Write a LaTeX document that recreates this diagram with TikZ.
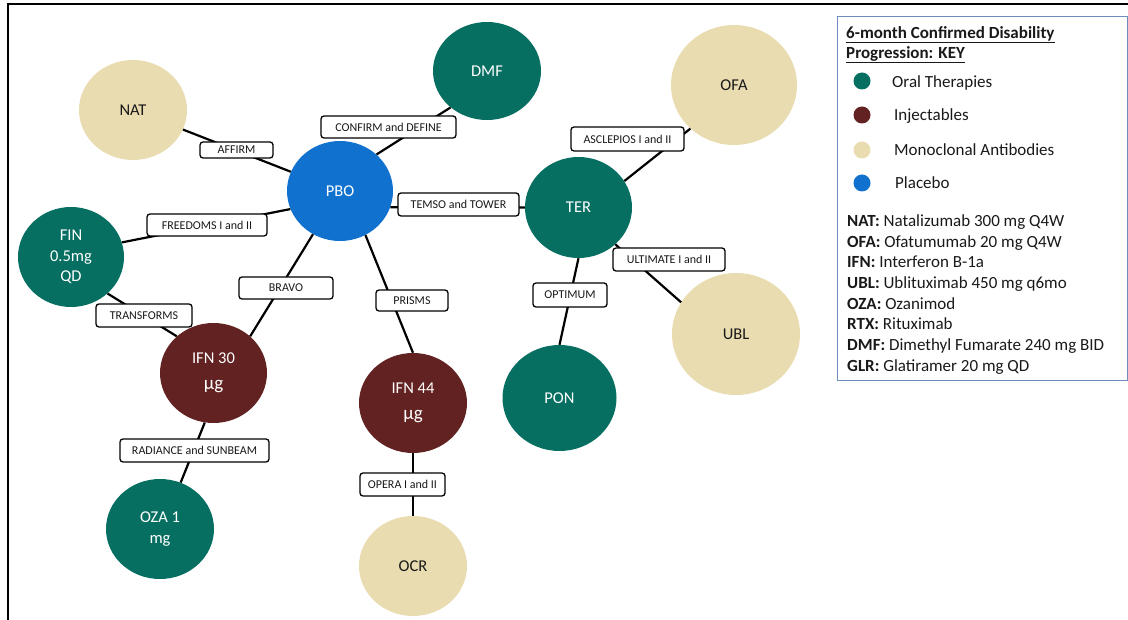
\documentclass[tikz,border=0pt]{standalone}
\usepackage{fontspec}
\setmainfont{Carlito}
\usetikzlibrary{shapes.geometric}
\definecolor{tealc}{RGB}{7,111,98}
\definecolor{maroonc}{RGB}{99,34,34}
\definecolor{beigec}{RGB}{234,220,177}
\definecolor{bluec}{RGB}{16,113,206}
\definecolor{keyb}{RGB}{110,140,190}
\definecolor{ink}{RGB}{25,25,25}
\newcommand{\mug}{{\fontsize{19}{20.5}\selectfont μg}}
\begin{document}
\begin{tikzpicture}[x=1pt,y=-1pt,
  bub/.style={ellipse, inner sep=0pt, align=center, font=\fontsize{16.5}{20.5}\selectfont},
  oral/.style={bub, fill=tealc, text=white},
  inj/.style={bub, fill=maroonc, text=white},
  mab/.style={bub, fill=beigec, text=ink},
  plac/.style={bub, fill=bluec, text=white},
  lab/.style={draw=black, line width=1.3pt, rounded corners=3pt, fill=white, inner sep=0pt,
    font=\fontsize{12}{14}\selectfont, text=ink},
  link/.style={line width=2.2pt, black},
  keytxt/.style={inner sep=0pt, font=\fontsize{17}{20.7}\selectfont, text=ink},
  dot/.style={circle, inner sep=0pt, minimum size=17pt}]
\useasboundingbox (0,0) rectangle (1128,620);
% frame
\draw[line width=2pt] (8,622) -- (8,4) -- (1130,4);

% bubbles
\node[mab,  minimum width=108pt, minimum height=100pt] (NAT)   at (133,110) {NAT};
\node[oral, minimum width=108pt, minimum height=98pt]  (DMF)   at (487,71)  {DMF};
\node[plac, minimum width=106pt, minimum height=100pt] (PBO)   at (340,191) {PBO};
\node[mab,  minimum width=126pt, minimum height=120pt] (OFA)   at (734,85)  {OFA};
\node[oral, minimum width=107pt, minimum height=101pt] (TER)   at (578.5,207.5) {TER};
\node[oral, minimum width=106pt, minimum height=100pt] (FIN)   at (71,257)  {FIN\\0.5mg\\QD};
\node[inj,  minimum width=107pt, minimum height=100pt] (IFN30) at (213.5,373) {IFN 30\\[6pt]\mug};
\node[inj,  minimum width=108pt, minimum height=100pt] (IFN44) at (413,403) {IFN 44\\[6pt]\mug};
\node[oral, minimum width=114pt, minimum height=106pt] (PON)   at (559.5,398) {PON};
\node[mab,  minimum width=128pt, minimum height=122pt] (UBL)   at (736,334) {UBL};
\node[oral, minimum width=108pt, minimum height=100pt] (OZA)   at (160,529) {OZA 1\\mg};
\node[mab,  minimum width=108pt, minimum height=100pt] (OCR)   at (413,566) {OCR};

% connectors
\draw[link] (NAT) -- (PBO);
\draw[link] (PBO.45) -- (DMF.-135);
\draw[link] (FIN.16) -- (PBO.200);
\draw[link] (PBO.-18) -- (TER.west);
\draw[link] (TER.30) -- (OFA.-135);
\draw[link] (TER.-45) -- (UBL.150);
\draw[link] (TER.south) -- (PON.north);
\draw[link] (PBO.-122) -- (IFN30.45);
\draw[link] (PBO.-60) -- (IFN44.north);
\draw[link] (FIN.-45) -- (IFN30.135);
\draw[link] (IFN30.-100) -- (OZA.66);
\draw[link] (IFN44.south) -- (OCR.north);

% labels
\node[lab, minimum width=73pt,  minimum height=16pt] (l1)  at (236.5,150)   {AFFIRM};
\node[lab, minimum width=135pt, minimum height=22pt] (l2)  at (388.5,127)   {CONFIRM and DEFINE};
\node[lab, minimum width=120pt, minimum height=22pt] (l3)  at (207,225)     {FREEDOMS I and II};
\node[lab, minimum width=121pt, minimum height=23pt] (l4)  at (458.5,204.5) {TEMSO and TOWER};
\node[lab, minimum width=113pt, minimum height=24pt] (l5)  at (627.5,139)   {ASCLEPIOS I and II};
\node[lab, minimum width=94pt,  minimum height=22pt] (l6)  at (286,288)     {BRAVO};
\node[lab, minimum width=72pt,  minimum height=21pt] (l7)  at (412,300.5)   {PRISMS};
\node[lab, minimum width=74pt,  minimum height=24pt] (l8)  at (570,295)     {OPTIMUM};
\node[lab, minimum width=112pt, minimum height=23pt] (l9)  at (669,259.5)   {ULTIMATE I and II};
\node[lab, minimum width=96pt,  minimum height=23pt] (l10) at (144,315.5)   {TRANSFORMS};
\node[lab, minimum width=149pt, minimum height=23pt] (l11) at (194.5,450.5) {RADIANCE and SUNBEAM};
\node[lab, minimum width=85pt,  minimum height=23pt] (l12) at (402.5,484.5) {OPERA I and II};

% key
\draw[keyb, line width=1pt] (837,17) rectangle (1127.5,381);
\node[keytxt, anchor=base west, font=\fontsize{17}{20.7}\selectfont\bfseries] (t1) at (846,38.5) {6-month Confirmed Disability};
\node[keytxt, anchor=base west, font=\fontsize{17}{20.7}\selectfont\bfseries] (t2) at (846,58.5) {Progression: KEY};
\draw[ink, line width=1.1pt] ([yshift=-3.6pt]t1.base west) -- ([yshift=-3.6pt]t1.base east);
\draw[ink, line width=1.1pt] ([yshift=-3.6pt]t2.base west) -- ([yshift=-3.6pt]t2.base east);

\node[dot, fill=tealc]   (d1) at (862,81)  {};
\node[dot, fill=maroonc] (d2) at (862,115) {};
\node[dot, fill=beigec]  (d3) at (862,150) {};
\node[dot, fill=bluec]   (d4) at (862,183) {};
\node[keytxt, anchor=base west] (e1) at (892,87.5)  {Oral Therapies};
\node[keytxt, anchor=base west] (e2) at (894,120.5) {Injectables};
\node[keytxt, anchor=base west] (e3) at (894,155.5) {Monoclonal Antibodies};
\node[keytxt, anchor=base west] (e4) at (895,188.5) {Placebo};

\foreach \n/\d [count=\i] in {NAT/Natalizumab 300 mg Q4W, OFA/Ofatumumab 20 mg Q4W, IFN/Interferon B-1a, UBL/Ublituximab 450 mg q6mo, OZA/Ozanimod, RTX/Rituximab, DMF/Dimethyl Fumarate 240 mg BID, GLR/Glatiramer 20 mg QD}
  \node[keytxt, anchor=base west] (k\i) at (847,{226.5+20.7*(\i-1)}) {\textbf{\n:} \d};
\end{tikzpicture}
\end{document}
